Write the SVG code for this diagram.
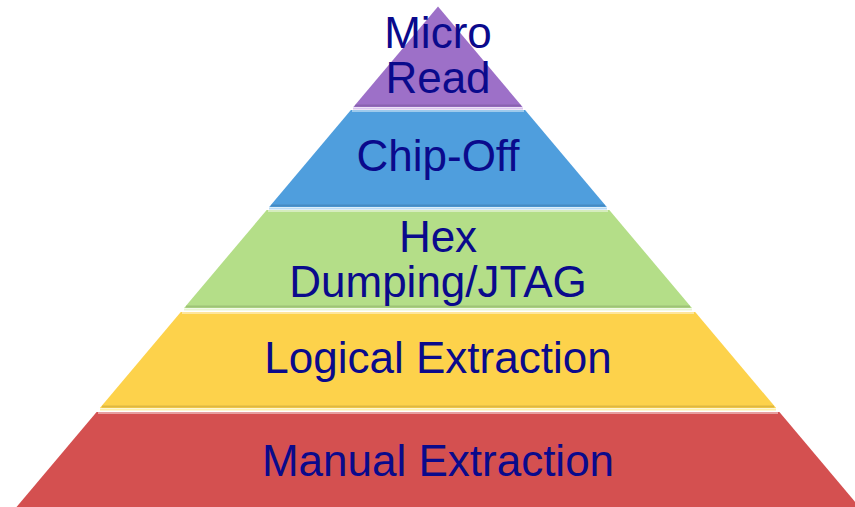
<svg xmlns="http://www.w3.org/2000/svg" width="855" height="507" viewBox="0 0 855 507">
  <style>
    .lbl { font-family: "Liberation Sans", Arial, sans-serif; font-size: 44px; fill: #0A0A8C; text-anchor: middle; }
    .hl { stroke: #ffffff; stroke-opacity: 0.45; stroke-width: 2; fill: none; }
    .sh { stroke: #000000; stroke-opacity: 0.12; stroke-width: 2; fill: none; }
  </style>
  <defs>
    <linearGradient id="gp" x1="0" y1="0" x2="0" y2="1">
      <stop offset="0" stop-color="#A47ACF"/>
      <stop offset="1" stop-color="#9A6BC4"/>
    </linearGradient>
  </defs>
  <rect width="855" height="507" fill="#ffffff"/>
  <g id="layer-micro-read">
    <polygon points="438,6.5 522.6,107 353.4,107" fill="#9D70C8"/>
    <line class="sh" x1="355" y1="105.5" x2="521" y2="105.5"/>
    <line x1="353" y1="108.5" x2="523" y2="108.5" stroke="#D9C4EE" stroke-width="2"/>
    <text class="lbl" x="438" y="48">Micro</text>
    <text class="lbl" x="438" y="93">Read</text>
  </g>
  <g id="layer-chip-off">
    <polygon points="350.9,110 525.1,110 606.8,207 269.2,207" fill="#4F9EDD"/>
    <line class="hl" x1="352" y1="111" x2="524" y2="111"/>
    <line class="sh" x1="271" y1="205.5" x2="605" y2="205.5"/>
    <line x1="269" y1="208.5" x2="607" y2="208.5" stroke="#B9DBF5" stroke-width="2"/>
    <text class="lbl" x="438" y="171">Chip-Off</text>
  </g>
  <g id="layer-hex-dumping">
    <polygon points="266.7,210 609.3,210 691.9,308 184.1,308" fill="#B4DE88"/>
    <line class="hl" x1="268" y1="211" x2="608" y2="211"/>
    <line class="sh" x1="186" y1="306.5" x2="690" y2="306.5"/>
    <line x1="184" y1="309.5" x2="692" y2="309.5" stroke="#E8F5D2" stroke-width="2"/>
    <text class="lbl" x="438" y="252">Hex</text>
    <text class="lbl" x="438" y="297">Dumping/JTAG</text>
  </g>
  <g id="layer-logical-extraction">
    <polygon points="180.8,312 695.2,312 776.1,408 99.9,408" fill="#FDD24B"/>
    <line class="hl" x1="182" y1="313" x2="694" y2="313"/>
    <line class="sh" x1="102" y1="406.5" x2="774" y2="406.5"/>
    <line x1="100" y1="409.5" x2="776" y2="409.5" stroke="#FDF0A8" stroke-width="2"/>
    <text class="lbl" x="438" y="373">Logical Extraction</text>
  </g>
  <g id="layer-manual-extraction">
    <polygon points="96.6,412 779.4,412 862,510 14,510" fill="#D45050"/>
    <line class="hl" x1="98" y1="413" x2="778" y2="413"/>
    <text class="lbl" x="438" y="476">Manual Extraction</text>
  </g>
</svg>
